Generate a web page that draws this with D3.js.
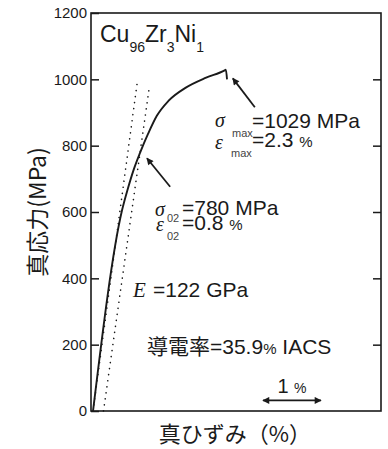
<!DOCTYPE html>
<html>
<head>
<meta charset="utf-8">
<script src="https://cdn.jsdelivr.net/npm/d3@7"></script>
<style>
    body { margin: 0; background: #fff; }
    svg { display: block; }
</style>
</head>
<body>
<div id="stressStrain"></div>
<script>
// true strain (%) / true stress (MPa)
const strainPct = [0, 0.5, 0.6, 0.7, 0.81, 0.95, 1.1, 1.3, 1.6, 1.95, 2.27, 2.29, 2.31];
const trueStress = [0, 605, 670, 727, 778, 836, 890, 935, 975, 1005, 1027, 1029, 1000];
// elastic line and 0.2 % offset line (dotted)
const elasticStrain = [0, 0.76];
const elasticStress = [0, 988];
const offsetStrain = [0.18, 0.97];
const offsetStress = [0, 976];
const yTicks = [0, 200, 400, 600, 800, 1000, 1200];

const W = 388, H = 449,
    plot = { left: 91, right: 381, top: 13, bottom: 411 },
    sans = '"Liberation Sans", Arial, sans-serif',
    serif = '"Liberation Serif", "Times New Roman", serif',
    cjk = '"Noto Sans CJK JP", "Noto Sans CJK SC", sans-serif',
    ink = '#1a1a1a';

const svg = d3.select('#stressStrain')
    .append('svg')
    .attr('width', W)
    .attr('height', H);

const defs = svg.append('defs');
defs.append('marker')
    .attr('id', 'head')
    .attr('viewBox', '0 0 10 10')
    .attr('refX', 9)
    .attr('refY', 5)
    .attr('markerWidth', 9)
    .attr('markerHeight', 7)
    .attr('markerUnits', 'userSpaceOnUse')
    .attr('orient', 'auto-start-reverse')
    .append('path')
    .attr('d', 'M0,0 L10,5 L0,10 z')
    .attr('fill', ink);

const x = d3.scaleLinear().domain([-0.035, 4.965]).range([plot.left, plot.right]);
const y = d3.scaleLinear().domain([0, 1200]).range([plot.bottom, plot.top]);

// left axis, ticks pointing inward
const leftAxis = svg.append('g')
    .attr('transform', `translate(${plot.left},0)`)
    .call(d3.axisLeft(y).tickValues(yTicks).tickFormat(d3.format('d')).tickSize(-8).tickPadding(4));
leftAxis.select('.domain').remove();
leftAxis.selectAll('line').attr('stroke', ink).attr('stroke-width', 1.5);
leftAxis.selectAll('text')
    .attr('fill', ink)
    .style('font-family', sans)
    .style('font-size', '15px');

const rightAxis = svg.append('g')
    .attr('transform', `translate(${plot.right},0)`)
    .call(d3.axisRight(y).tickValues(yTicks.slice(1, -1)).tickSize(-8).tickFormat(''));
rightAxis.select('.domain').remove();
rightAxis.selectAll('line').attr('stroke', ink).attr('stroke-width', 1.5);

// frame
svg.append('rect')
    .attr('x', plot.left)
    .attr('y', plot.top)
    .attr('width', plot.right - plot.left)
    .attr('height', plot.bottom - plot.top)
    .attr('fill', 'none')
    .attr('stroke', ink)
    .attr('stroke-width', 1.6);

// dotted guide lines
const guide = d3.line().x((d) => x(d[0])).y((d) => y(d[1]));
[[elasticStrain, elasticStress], [offsetStrain, offsetStress]].forEach(([sx, sy]) => {
    svg.append('path')
        .datum(sx.map((v, i) => [v, sy[i]]))
        .attr('d', guide)
        .attr('fill', 'none')
        .attr('stroke', ink)
        .attr('stroke-width', 1.6)
        .attr('stroke-linecap', 'round')
        .attr('stroke-dasharray', '0.1,6');
});

// stress-strain curve
const curve = d3.line()
    .curve(d3.curveMonotoneX)
    .x((d) => x(d[0]))
    .y((d) => y(d[1]));
svg.append('path')
    .datum(strainPct.map((v, i) => [v, trueStress[i]]))
    .attr('d', curve)
    .attr('fill', 'none')
    .attr('stroke', ink)
    .attr('stroke-width', 1.9);

// arrows (in data units)
const arrow = (from, to, both) => {
    svg.append('line')
        .attr('x1', x(from[0])).attr('y1', y(from[1]))
        .attr('x2', x(to[0])).attr('y2', y(to[1]))
        .attr('stroke', ink)
        .attr('stroke-width', 1.8)
        .attr('marker-end', 'url(#head)')
        .attr('marker-start', both ? 'url(#head)' : null);
};
arrow([2.79, 916], [2.41, 1003]);
arrow([1.33, 676], [0.93, 762]);
arrow([2.93, 32], [3.93, 32], true);

const label = (tx, ty, str, size, family, opts = {}) => {
    const t = svg.append('text')
        .attr('x', tx)
        .attr('y', ty)
        .attr('fill', opts.fill || ink)
        .style('font-family', family)
        .style('font-size', size + 'px')
        .style('font-style', opts.italic ? 'italic' : null)
        .attr('text-anchor', opts.anchor || 'start')
        .text(str);
    return t;
};

// composition
const comp = svg.append('text')
    .attr('x', 100)
    .attr('y', 42)
    .attr('fill', ink)
    .style('font-family', sans);
[['Cu', 0], ['96', 1], ['Zr', 0], ['3', 1], ['Ni', 0], ['1', 1]].forEach(([s, sub], i) => {
    comp.append('tspan')
        .attr('dy', i === 0 ? 0 : sub ? 10 : -10)
        .style('font-size', sub ? '14px' : '23px')
        .text(s);
});

// sigma max / eps max
label(215, 127, 'σ', 20, serif, { italic: true });
label(232, 137, 'max', 11, sans, { fill: '#444' });
label(252, 128, '=1029 MPa', 21, sans);
label(215, 149, 'ε', 20, serif, { italic: true });
label(231, 157, 'max', 11, sans, { fill: '#444' });
const e1 = label(252, 147, '=2.3 ', 21, sans);
e1.append('tspan').style('font-size', '15px').text('%');

// 0.2 % proof stress
label(155, 216, 'σ', 20, serif, { italic: true });
label(167, 222, '02', 11, sans, { fill: '#444' });
label(182, 215, '=780 MPa', 21, sans);
label(156, 231, 'ε', 20, serif, { italic: true });
label(167, 240, '02', 11, sans, { fill: '#444' });
const e2 = label(182, 230, '=0.8 ', 21, sans);
e2.append('tspan').style('font-size', '15px').text('%');

// modulus
label(133, 297, 'E', 21, serif, { italic: true });
label(153, 297, '=122 GPa', 21, sans);

// conductivity
const cond = label(147, 354, '導電率', 21, cjk);
cond.append('tspan').style('font-family', sans).text('=35.9');
cond.append('tspan').style('font-family', sans).style('font-size', '15px').text('%');
cond.append('tspan').style('font-family', sans).text(' IACS');

// 1 % scale bar label
const bar = label(x(3.43), 393, '1 ', 20, sans, { anchor: 'middle' });
bar.append('tspan').style('font-size', '14px').text('%');

// axis titles
label(235, 442, '真ひずみ（%）', 22, cjk, { anchor: 'middle' });
svg.append('text')
    .attr('transform', 'translate(46,212) rotate(-90)')
    .attr('text-anchor', 'middle')
    .attr('fill', ink)
    .style('font-family', cjk)
    .style('font-size', '23px')
    .text('真応力(MPa)');
</script>
</body>
</html>
